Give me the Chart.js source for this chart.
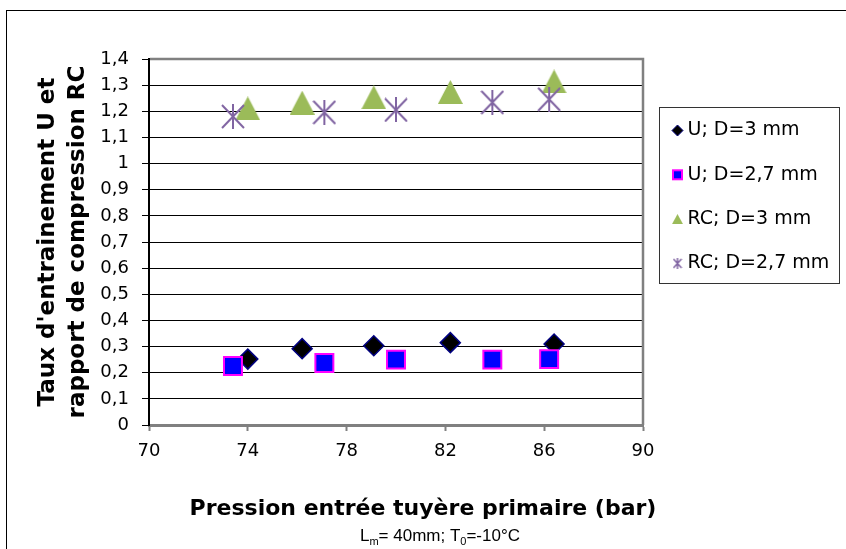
<!DOCTYPE html>
<html lang="fr">
<head>
<meta charset="utf-8">
<title>Taux d'entrainement U et rapport de compression RC</title>
<script src="https://cdn.jsdelivr.net/npm/chart.js@4.4.1/dist/chart.umd.min.js"></script>
<style>
  html, body { margin: 0; padding: 0; background: #fff; }
  canvas { display: block; }
</style>
</head>
<body>
<canvas id="chart" width="846" height="549"></canvas>
<script>
// Pression entrée tuyère primaire (bar)
const pressureD3  = [74.0, 76.2, 79.1, 82.2, 86.4];
const pressureD27 = [73.4, 77.1, 80.0, 83.9, 86.2];

// Taux d'entrainement U
const uD3  = [0.252, 0.292, 0.303, 0.315, 0.310];
const uD27 = [0.226, 0.237, 0.250, 0.250, 0.252];

// Rapport de compression RC
const rcD3  = [1.211, 1.233, 1.253, 1.274, 1.314];
const rcD27 = [1.180, 1.196, 1.205, 1.234, 1.246];

const seriesLabels = ['U; D=3 mm', 'U; D=2,7 mm', 'RC; D=3 mm', 'RC; D=2,7 mm'];
const xTicks = [70, 74, 78, 82, 86, 90];
const yTicks = [0, 0.1, 0.2, 0.3, 0.4, 0.5, 0.6, 0.7, 0.8, 0.9, 1, 1.1, 1.2, 1.3, 1.4];

const GREEN = '#9bbb59';
const PURPLE = '#8064a2';

// ------------------------------------------------------------
// marker pictures (Excel style triangle and asterisk)
// ------------------------------------------------------------
function triangleMarker(w, h, color) {
	const c = document.createElement('canvas');
	c.width = w; c.height = h;
	const g = c.getContext('2d');
	g.fillStyle = color;
	g.beginPath();
	g.moveTo(w / 2, 0);
	g.lineTo(w, h);
	g.lineTo(0, h);
	g.closePath();
	g.fill();
	return c;
}

function asteriskMarker(w, h, color, lw) {
	const c = document.createElement('canvas');
	c.width = w; c.height = h;
	const g = c.getContext('2d');
	g.strokeStyle = color;
	g.lineWidth = lw;
	g.beginPath();
	g.moveTo(1, 1); g.lineTo(w - 1, h - 1);
	g.moveTo(w - 1, 1); g.lineTo(1, h - 1);
	g.moveTo(w / 2, 0); g.lineTo(w / 2, h);
	g.stroke();
	return c;
}

const triangleBig = triangleMarker(25, 24, GREEN);
const starBig = asteriskMarker(24, 25, PURPLE, 2);
const triangleSmall = triangleMarker(11, 10, GREEN);
const starSmall = asteriskMarker(10, 11, PURPLE, 1.5);

function points(xs, ys) {
	return xs.map((x, i) => ({ x: x, y: ys[i] }));
}

// ------------------------------------------------------------
// legend, drawn in its own layout box on the right
// ------------------------------------------------------------
function drawLegendMarker(ctx, i, x, y) {
	ctx.save();
	if (i === 0) {
		ctx.fillStyle = '#000';
		ctx.strokeStyle = '#000080';
		ctx.lineWidth = 1;
		ctx.beginPath();
		ctx.moveTo(x - 5.5, y); ctx.lineTo(x, y - 5.5);
		ctx.lineTo(x + 5.5, y); ctx.lineTo(x, y + 5.5);
		ctx.closePath();
		ctx.fill(); ctx.stroke();
	} else if (i === 1) {
		ctx.fillStyle = '#0000ff';
		ctx.strokeStyle = '#ff00ff';
		ctx.lineWidth = 2;
		ctx.fillRect(x - 4.5, y - 4.5, 9, 9);
		ctx.strokeRect(x - 4.5, y - 4.5, 9, 9);
	} else if (i === 2) {
		ctx.drawImage(triangleSmall, x - 5.5, y - 5);
	} else {
		ctx.drawImage(starSmall, x - 5, y - 5.5);
	}
	ctx.restore();
}

const boxLegend = {
	id: 'boxLegend',
	beforeInit(chart) {
		const box = {
			position: 'right',
			weight: 1000,
			fullSize: false,
			options: {},
			left: 0, top: 0, right: 0, bottom: 0, width: 0, height: 0,
			isHorizontal() { return false; },
			update(maxWidth, maxHeight) {
				this.width = 203;
				this.height = maxHeight;
			},
			draw() {
				const ctx = chart.ctx;
				const x0 = Math.round(this.left + 16) + 0.5;
				const y0 = Math.round(chart.chartArea.top + 48) + 0.5;
				ctx.save();
				ctx.strokeStyle = '#333';
				ctx.lineWidth = 1;
				ctx.strokeRect(x0, y0, 180, 176);
				ctx.font = '19px "DejaVu Sans"';
				ctx.textBaseline = 'middle';
				ctx.fillStyle = '#000';
				chart.data.datasets.forEach((ds, i) => {
					const y = y0 + 23 + i * 44.3;
					drawLegendMarker(ctx, i, x0 + 18, y);
					ctx.fillText(ds.label, x0 + 28, y);
				});
				ctx.restore();
			}
		};
		Chart.layouts.addBox(chart, box);
	}
};

// ------------------------------------------------------------
// plot frame, outer border and the conditions line under the title
// ------------------------------------------------------------
const frame = {
	id: 'frame',
	beforeDraw(chart) {
		const ctx = chart.ctx;
		ctx.save();
		ctx.strokeStyle = '#000';
		ctx.lineWidth = 1;
		ctx.strokeRect(6.5, 10.5, 900, 600);
		ctx.restore();
	},
	beforeDatasetsDraw(chart) {
		const { ctx, chartArea: a } = chart;
		ctx.save();
		ctx.strokeStyle = '#808080';
		ctx.lineWidth = 2.5;
		ctx.beginPath();
		ctx.moveTo(a.left + 1, a.top);
		ctx.lineTo(a.right, a.top);
		ctx.lineTo(a.right, a.bottom);
		ctx.stroke();
		ctx.restore();
	},
	afterDraw(chart) {
		const ctx = chart.ctx;
		const parts = [
			['L', false], ['m', true], ['= 40mm; T', false], ['0', true], ['=-10°C', false]
		];
		const big = '17px "Liberation Sans", Arial, sans-serif';
		const small = '11px "Liberation Sans", Arial, sans-serif';
		ctx.save();
		ctx.fillStyle = '#000';
		ctx.textBaseline = 'alphabetic';
		let total = 0;
		parts.forEach(p => {
			ctx.font = p[1] ? small : big;
			total += ctx.measureText(p[0]).width;
		});
		let x = 440 - total / 2;
		const base = 541;
		parts.forEach(p => {
			ctx.font = p[1] ? small : big;
			ctx.fillText(p[0], x, p[1] ? base + 4 : base);
			x += ctx.measureText(p[0]).width;
		});
		ctx.restore();
	}
};

const tickFont = { family: 'DejaVu Sans', size: 18 };

new Chart(document.getElementById('chart'), {
	type: 'scatter',
	data: {
		datasets: [
			{
				label: seriesLabels[0],
				data: points(pressureD3, uD3),
				pointStyle: 'rectRot',
				pointRadius: 10,
				pointHoverRadius: 10,
				backgroundColor: '#000',
				borderColor: '#000080',
				borderWidth: 1.5,
				order: 4
			},
			{
				label: seriesLabels[1],
				data: points(pressureD27, uD27),
				pointStyle: 'rect',
				pointRadius: 12.7,
				pointHoverRadius: 12.7,
				backgroundColor: '#0000ff',
				borderColor: '#ff00ff',
				borderWidth: 2,
				order: 3
			},
			{
				label: seriesLabels[2],
				data: points(pressureD3, rcD3),
				pointStyle: triangleBig,
				pointRadius: 12,
				backgroundColor: GREEN,
				borderColor: GREEN,
				order: 2
			},
			{
				label: seriesLabels[3],
				data: points(pressureD27, rcD27),
				pointStyle: starBig,
				pointRadius: 12,
				backgroundColor: PURPLE,
				borderColor: PURPLE,
				order: 1
			}
		]
	},
	options: {
		responsive: false,
		devicePixelRatio: 1,
		animation: false,
		events: [],
		layout: { padding: { top: 59, left: 0, right: 0, bottom: 0 } },
		plugins: {
			legend: { display: false },
			tooltip: { enabled: false },
			title: {
				display: true,
				position: 'bottom',
				text: 'Pression entrée tuyère primaire (bar)',
				color: '#000',
				font: { family: 'DejaVu Sans', size: 22, weight: 'bold', lineHeight: 1.2 },
				padding: { top: 0, bottom: 27 }
			}
		},
		scales: {
			x: {
				type: 'linear',
				min: 70,
				max: 90,
				afterBuildTicks: s => { s.ticks = xTicks.map(v => ({ value: v })); },
				afterFit: s => { s.height = 70.6; },
				ticks: { color: '#000', font: tickFont, padding: 10, maxRotation: 0, autoSkip: false },
				grid: { drawOnChartArea: false, color: '#808080', tickLength: 6, tickWidth: 2 },
				border: { color: '#808080', width: 3 }
			},
			y: {
				min: 0,
				max: 1.4,
				afterBuildTicks: s => { s.ticks = yTicks.map(v => ({ value: v })); },
				afterFit: s => { s.width = 149; },
				ticks: {
					color: '#000',
					font: tickFont,
					padding: 13,
					autoSkip: false,
					callback: v => String(Math.round(v * 10) / 10).replace('.', ',')
				},
				grid: {
					color: c => (c.index === 0 || c.index === yTicks.length - 1) ? 'rgba(0,0,0,0)' : '#000',
					tickColor: '#000',
					tickLength: 7,
					lineWidth: 1
				},
				border: { color: '#000', width: 2 },
				title: {
					display: true,
					text: ["Taux d'entrainement U et", 'rapport de compression RC'],
					color: '#000',
					font: { family: 'DejaVu Sans', size: 23, weight: 'bold', lineHeight: '30px' },
					padding: { top: 33, bottom: 0 }
				}
			}
		}
	},
	plugins: [boxLegend, frame]
});
</script>
</body>
</html>
